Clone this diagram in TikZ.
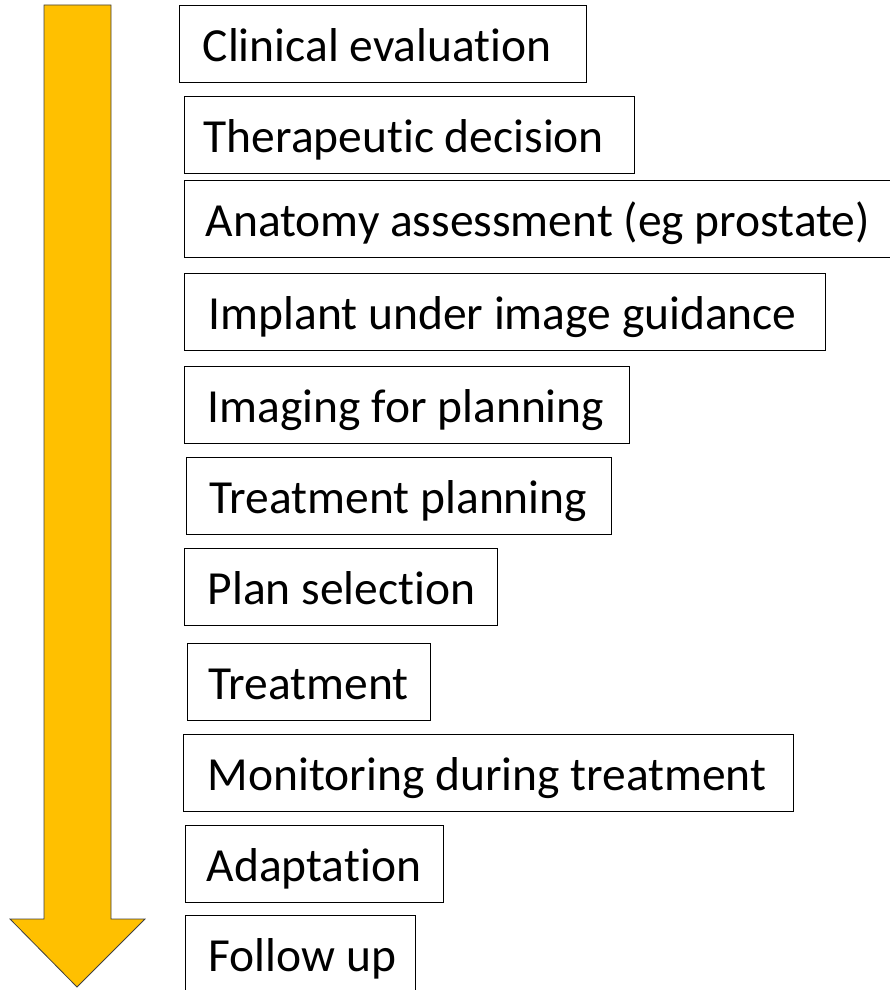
\documentclass[tikz,border=0pt]{standalone}
\usepackage{fontspec}
\setmainfont[Ligatures=CommonOff]{Carlito}
\definecolor{arrowgold}{HTML}{FFC000}
% text set flush left inside a box of fixed width, after a small indent
\newcommand\stagetext[3]{\makebox[#1pt][l]{\hspace*{#2pt}#3}}
\begin{document}
\begin{tikzpicture}[x=1pt,y=-1pt,
  stage/.style={draw=black, line width=1.4pt, inner xsep=0pt, inner ysep=0pt,
    text height=56pt, text depth=21pt, anchor=north west,
    font=\fontsize{47.5}{57}\selectfont},
  flow/.style={fill=arrowgold, draw=black!75, line width=0.8pt, line join=miter}]
\path[use as bounding box, clip] (0,0) rectangle (890,990);

% the downward block arrow on the left
\draw[flow] (44,5) -- (111,5) -- (111,919) -- (145,919) -- (77,987)
  -- (10,919) -- (44,919) -- cycle;

% the workflow stages, top to bottom
\node[stage] (s1)  at (179,5)   {\stagetext{407}{23}{Clinical evaluation}};
\node[stage] (s2)  at (184,96)  {\stagetext{450}{19}{Therapeutic decision}};
\node[stage] (s3)  at (184,180) {\stagetext{740}{21}{Anatomy assessment (eg prostate)}};
\node[stage] (s4)  at (184,273) {\stagetext{641}{24}{Implant under image guidance}};
\node[stage] (s5)  at (184,366) {\stagetext{445}{23}{Imaging for planning}};
\node[stage] (s6)  at (186,457) {\stagetext{425}{23}{Treatment planning}};
\node[stage] (s7)  at (184,548) {\stagetext{313}{23}{Plan selection}};
\node[stage] (s8)  at (187,643) {\stagetext{243}{21}{Treatment}};
\node[stage] (s9)  at (183,734) {\stagetext{610}{24}{Monitoring during treatment}};
\node[stage] (s10) at (185,825) {\stagetext{258}{21}{Adaptation}};
\node[stage] (s11) at (185,915) {\stagetext{230}{23}{Follow up}};
\end{tikzpicture}
\end{document}
